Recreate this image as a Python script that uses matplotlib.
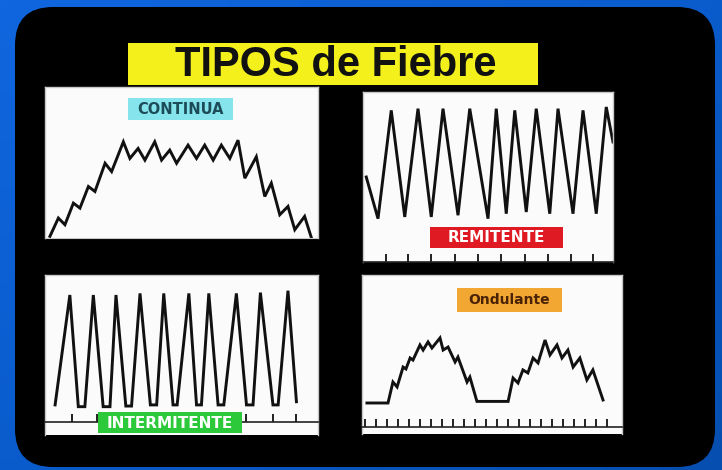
import numpy as np
import matplotlib.pyplot as plt
from matplotlib.patches import FancyBboxPatch, Rectangle
from matplotlib.colors import LinearSegmentedColormap

W, H = 722, 470

titulo = 'TIPOS de Fiebre'
etiquetas = ['CONTINUA', 'REMITENTE', 'INTERMITENTE', 'Ondulante']

# curvas: x = % del ancho del panel, y = % de la altura del panel
continua_x = [1.8, 4.9, 7.3, 10.4, 12.8, 15.9, 18.3, 22.0, 24.4, 28.7, 31.1, 34.1, 36.6,
              40.2, 42.7, 45.7, 48.2, 52.4, 55.5, 58.5, 61.6, 64.6, 67.7, 70.7, 73.2,
              77.4, 80.5, 82.9, 86.0, 89.0, 91.5, 95.1, 97.6]
continua_y = [1.1, 13.2, 8.8, 23.1, 19.8, 34.1, 30.8, 49.5, 44.0, 63.7, 52.7, 59.3, 51.6,
              63.7, 51.6, 58.2, 49.5, 61.5, 52.7, 61.5, 51.6, 61.5, 52.7, 64.8, 39.6,
              53.8, 27.5, 36.3, 15.4, 20.9, 5.5, 14.3, 0.0]

remitente_x = [1.3, 6.0, 11.3, 16.7, 22.0, 27.3, 32.0, 38.0, 42.7, 50.0, 53.3, 57.3,
               60.7, 65.3, 69.3, 74.7, 78.0, 84.0, 88.0, 93.3, 97.3, 100.0]
remitente_y = [50.0, 25.5, 89.2, 26.5, 90.2, 26.5, 90.2, 27.5, 90.2, 25.5, 90.2, 28.4,
               89.2, 29.4, 90.2, 28.4, 90.2, 28.4, 89.2, 28.4, 91.2, 70.6]
remitente_ticks = [9.3, 18.0, 27.3, 36.7, 46.0, 55.3, 64.7, 74.0, 83.3, 92.0]

intermitente_x = [3.7, 9.1, 12.2, 14.6, 17.7, 21.3, 23.8, 26.0, 29.6, 31.7, 34.8, 38.6,
                  40.9, 43.5, 46.9, 48.4, 52.7, 55.5, 57.3, 60.0, 63.4, 65.5, 70.1,
                  73.8, 76.2, 78.9, 83.5, 85.4, 89.0, 92.1]
intermitente_y = [18.8, 87.5, 17.7, 17.7, 87.5, 17.7, 17.7, 87.5, 18.1, 18.1, 88.5, 18.8,
                  18.8, 88.5, 18.8, 18.8, 88.5, 18.8, 18.8, 88.5, 18.8, 18.8, 88.5,
                  18.8, 18.8, 89.0, 18.8, 18.8, 90.2, 20.8]
intermitente_ticks = [9.8, 18.9, 28.0, 37.2, 46.3, 55.5, 64.6, 73.8, 83.5, 92.1]

ondulante_x = [1.9, 10.0, 11.9, 13.5, 15.8, 16.9, 18.5, 19.6, 22.3, 23.5, 25.4, 26.9,
               30.0, 31.2, 33.1, 35.8, 36.9, 40.4, 41.5, 44.2, 56.2, 58.1, 60.0, 61.9,
               63.8, 65.8, 67.7, 70.4, 72.3, 75.0, 76.9, 79.2, 81.2, 83.8, 86.5, 88.8, 92.7]
ondulante_y = [19.5, 19.5, 32.7, 29.6, 42.1, 40.9, 47.8, 46.5, 56.0, 52.8, 57.9, 54.1,
               60.4, 52.8, 54.7, 45.3, 48.4, 32.7, 35.8, 20.5, 20.5, 35.2, 32.1, 40.3,
               38.4, 47.8, 44.7, 59.1, 49.7, 56.0, 47.8, 52.8, 42.1, 47.8, 34.0, 40.3, 21.4]
ondulante_ticks = [1.2, 5.4, 9.6, 13.8, 18.1, 22.3, 26.5, 30.8, 35.0, 39.2, 43.5, 47.7,
                   51.9, 56.2, 60.4, 64.6, 68.8, 73.1, 77.3, 81.5, 85.8, 90.0, 94.2]

fig = plt.figure(figsize=(W / 100, H / 100), dpi=100)

# fondo azul + recuadro negro + titulo
bg = fig.add_axes([0, 0, 1, 1], zorder=0)
bg.set_xlim(0, W)
bg.set_ylim(H, 0)
bg.axis('off')
cmap = LinearSegmentedColormap.from_list('azul', ['#1066de', '#0a5ccc', '#064fb0'])
grad = np.add.outer(np.linspace(0, 1, 50), np.linspace(0, 1, 80)) / 2
bg.imshow(grad, cmap=cmap, extent=[0, W, H, 0], aspect='auto')
bg.add_patch(FancyBboxPatch((50, 42), 630, 390, boxstyle='round,pad=35,rounding_size=38',
                            fc='black', ec='none'))
bg.add_patch(Rectangle((128, 43), 410, 42, fc='#f4f01c', ec='none'))
bg.text(336, 65, titulo, ha='center', va='center', fontsize=30, fontweight='bold',
        family='Liberation Sans', color='#111111')


def panel(rect, xs, ys, ticks=None, base=0.0, tlen=5):
    x0, y0, x1, y1 = rect
    ax = fig.add_axes([x0 / W, 1 - y1 / H, (x1 - x0) / W, (y1 - y0) / H], zorder=2)
    ax.set_facecolor('#fbfbfb')
    ax.plot(xs, ys, color='#111111', lw=2.1, solid_joinstyle='miter')
    ax.set_xlim(0, 100)
    ax.set_ylim(0, 100)
    for s in ['top', 'left', 'right']:
        ax.spines[s].set_color('#c8c8c8')
        ax.spines[s].set_linewidth(1)
    ax.set_yticks([])
    if ticks is None:
        ax.spines['bottom'].set_color('#c8c8c8')
        ax.set_xticks([])
    else:
        ax.spines['bottom'].set_position(('data', base))
        ax.spines['bottom'].set_color('#222222')
        ax.spines['bottom'].set_linewidth(1.2)
        ax.set_xticks(ticks)
        ax.tick_params(axis='x', direction='in', length=tlen, width=1.4,
                       color='#222222', labelbottom=False)
    return ax


panel((45, 87, 318, 238), continua_x, continua_y)
panel((363, 92, 613, 262), remitente_x, remitente_y, remitente_ticks, 0.0, 5.5)
panel((45, 275, 318, 435), intermitente_x, intermitente_y, intermitente_ticks, 8.3, 5.5)
panel((362, 275, 622, 434), ondulante_x, ondulante_y, ondulante_ticks, 4.4, 5.5)

# etiquetas de cada panel
top = fig.add_axes([0, 0, 1, 1], zorder=5)
top.set_xlim(0, W)
top.set_ylim(H, 0)
top.axis('off')
cajas = [(128, 98, 233, 120, '#86e4ec', '#1c4c58', 10.5),
         (430, 227, 563, 248, '#e01a22', 'white', 11),
         (98, 412, 242, 433, '#2cc93a', 'white', 11),
         (457, 288, 562, 312, '#f2a733', '#4a2206', 10)]
for (x0, y0, x1, y1, fc, tc, fs), lab in zip(cajas, etiquetas):
    top.add_patch(Rectangle((x0, y0), x1 - x0, y1 - y0, fc=fc, ec='none'))
    top.text((x0 + x1) / 2, (y0 + y1) / 2 + 0.5, lab, ha='center', va='center',
             fontsize=fs, fontweight='bold', color=tc)

fig.savefig('out.png', dpi=100)
